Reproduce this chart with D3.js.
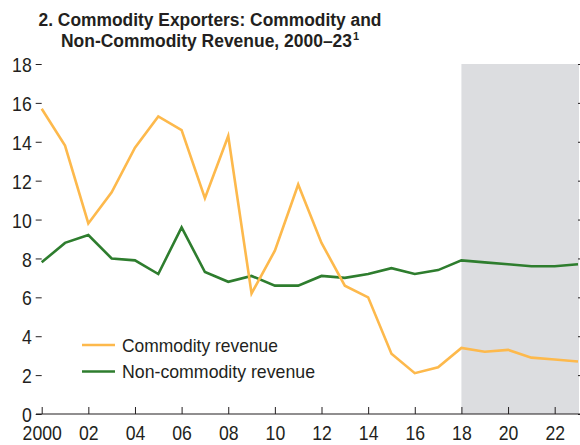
<!DOCTYPE html>
<html>
<head>
<meta charset="utf-8">
<script src="https://cdn.jsdelivr.net/npm/d3@7"></script>
<style>
  body { margin: 0; background: #fff; }
  svg text { font-family: "Liberation Sans", Arial, sans-serif; fill: #231f20; }
</style>
</head>
<body>
<div id="chart"></div>
<script>
const years = d3.range(2000, 2024);
const commodity = [15.7, 13.8, 9.8, 11.4, 13.7, 15.3, 14.6, 11.1, 14.3, 6.2, 8.4, 11.8,
  8.8, 6.6, 6.0, 3.1, 2.1, 2.4, 3.4, 3.2, 3.3, 2.9, 2.8, 2.7];
const nonCommodity = [7.8, 8.8, 9.2, 8.0, 7.9, 7.2, 9.6, 7.3, 6.8, 7.1, 6.6, 6.6,
  7.1, 7.0, 7.2, 7.5, 7.2, 7.4, 7.9, 7.8, 7.7, 7.6, 7.6, 7.7];
const yTicks = [0, 2, 4, 6, 8, 10, 12, 14, 16, 18];
const xTicks = [2000, 2002, 2004, 2006, 2008, 2010, 2012, 2014, 2016, 2018, 2020, 2022];
const projStart = 2018;

const width = 580, height = 445;
const plotL = 41.7, plotR = 578, plotT = 64, plotB = 414;

// squeeze text to a narrow face (the original uses a condensed font)
function condense(sel, k) {
  sel.each(function () {
    const w = this.getComputedTextLength();
    d3.select(this).attr("textLength", w * k).attr("lengthAdjust", "spacingAndGlyphs");
  });
}

const svg = d3.select("#chart").append("svg")
  .attr("width", width)
  .attr("height", height);

const x = d3.scaleLinear().domain([2000, 2023]).range([plotL, plotR]);
const y = d3.scaleLinear().domain([0, 18]).range([plotB, plotT]);

// projection shading
svg.append("rect")
  .attr("x", x(projStart))
  .attr("y", y(18))
  .attr("width", x(2023) - x(projStart) + 1)
  .attr("height", y(0) - y(18))
  .style("fill", "#dcdde0");

// title
const title = svg.append("g").style("font-weight", "bold").style("font-size", "18px");
title.append("text").attr("x", 38.5).attr("y", 25.5)
  .attr("textLength", 343).attr("lengthAdjust", "spacingAndGlyphs")
  .text("2. Commodity Exporters: Commodity and");
const t2 = title.append("text").attr("x", 61).attr("y", 47);
t2.append("tspan")
  .attr("textLength", 291).attr("lengthAdjust", "spacingAndGlyphs")
  .text("Non-Commodity Revenue, 2000–23");
t2.append("tspan").attr("dx", 1).attr("dy", -7).style("font-size", "11px").text("1");

// left axis
const yAxis = d3.axisLeft(y).tickValues(yTicks).tickSize(6).tickPadding(4);
const gy = svg.append("g").attr("transform", `translate(${plotL},0)`).call(yAxis);
gy.select(".domain").remove();
gy.selectAll("text").style("font-size", "21px").attr("dy", "0.36em").call(condense, 0.84);
gy.selectAll("line").style("stroke", "#231f20");

// right ticks
const yAxisR = d3.axisRight(y).tickValues(yTicks).tickSize(4).tickFormat("");
const gr = svg.append("g").attr("transform", `translate(${plotR},0)`).call(yAxisR);
gr.select(".domain").remove();
gr.selectAll("line").style("stroke", "#231f20");

// bottom axis
const xAxis = d3.axisTop(x).tickValues(xTicks).tickSize(7)
  .tickFormat(d => d === 2000 ? "2000" : d3.format("02d")(d % 100));
const gx = svg.append("g").attr("transform", `translate(0,${plotB})`).call(xAxis);
gx.select(".domain").remove();
gx.selectAll("line").style("stroke", "#231f20");
gx.selectAll("text").attr("y", 26).attr("dy", 0).style("font-size", "21px").call(condense, 0.84);
svg.append("line")
  .attr("x1", 36).attr("x2", width)
  .attr("y1", plotB).attr("y2", plotB)
  .style("stroke", "#231f20").style("stroke-width", 1.2);

// lines
const line = d3.line().x((d, i) => x(years[i])).y(d => y(d));
svg.append("path").datum(nonCommodity).attr("d", line)
  .style("fill", "none").style("stroke", "#2e7d2e").style("stroke-width", 2.6);
svg.append("path").datum(commodity).attr("d", line)
  .style("fill", "none").style("stroke", "#fdb94c").style("stroke-width", 2.6);

// legend
const legend = [
  { label: "Commodity revenue", color: "#fdb94c", w: 156 },
  { label: "Non-commodity revenue", color: "#2e7d2e", w: 193 }
];
const lg = svg.selectAll(".legend").data(legend).enter().append("g")
  .attr("class", "legend")
  .attr("transform", (d, i) => `translate(82,${345 + i * 26.5})`);
lg.append("line").attr("x1", 0).attr("x2", 33).attr("y1", 0).attr("y2", 0)
  .style("stroke", d => d.color).style("stroke-width", 2.6);
lg.append("text").attr("x", 40).attr("y", 6.5).style("font-size", "19px")
  .attr("textLength", d => d.w).attr("lengthAdjust", "spacingAndGlyphs")
  .text(d => d.label);
</script>
</body>
</html>
